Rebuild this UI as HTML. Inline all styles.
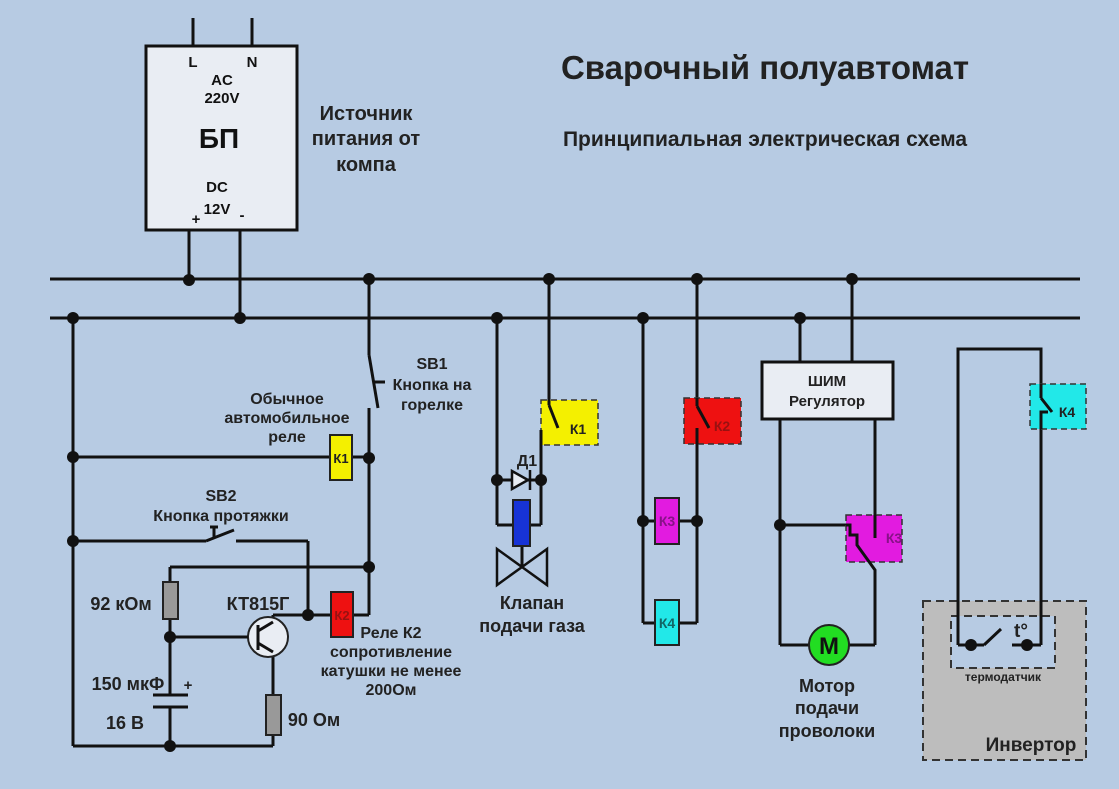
<!DOCTYPE html>
<html><head><meta charset="utf-8"><style>
html,body{margin:0;padding:0;background:#b7cbe3;}
svg{display:block;font-family:"Liberation Sans",sans-serif;font-weight:bold;}
</style></head><body>
<svg width="1119" height="789" viewBox="0 0 1119 789" xmlns="http://www.w3.org/2000/svg">
<rect width="1119" height="789" fill="#b7cbe3"/>
<g stroke="#111" stroke-width="3" fill="none">
<line x1="50" y1="279" x2="1080" y2="279"/>
<line x1="50" y1="318" x2="1080" y2="318"/>
<line x1="193" y1="18" x2="193" y2="46"/><line x1="252" y1="18" x2="252" y2="46"/>
<line x1="189" y1="230" x2="189" y2="279"/><line x1="240" y1="230" x2="240" y2="318"/>
<line x1="73" y1="318" x2="73" y2="746"/>
<line x1="73" y1="746" x2="273" y2="746"/>
<line x1="73" y1="457" x2="330" y2="457"/><line x1="352" y1="457" x2="369" y2="457"/>
<line x1="369" y1="279" x2="369" y2="355"/>
<line x1="369" y1="355" x2="378" y2="408"/>
<line x1="369" y1="408" x2="369" y2="615"/>
<line x1="373" y1="382" x2="385" y2="382"/>
<line x1="73" y1="541" x2="206" y2="541"/>
<line x1="206" y1="541" x2="234" y2="530"/>
<line x1="236" y1="541" x2="308" y2="541"/>
<line x1="308" y1="541" x2="308" y2="615"/>
<line x1="210" y1="527" x2="218" y2="527"/><line x1="214" y1="527" x2="214" y2="537"/>
<line x1="170" y1="567" x2="369" y2="567"/>
<line x1="170" y1="567" x2="170" y2="695"/>
<line x1="170" y1="707" x2="170" y2="746"/>
<line x1="153" y1="695" x2="188" y2="695"/><line x1="153" y1="707" x2="188" y2="707"/>
<line x1="273" y1="615" x2="331" y2="615"/><line x1="353" y1="615" x2="369" y2="615"/>
<line x1="273" y1="615" x2="273" y2="625"/>
<line x1="273" y1="650" x2="273" y2="746"/>
<line x1="497" y1="318" x2="497" y2="525"/><line x1="497" y1="525" x2="513" y2="525"/>
<line x1="549" y1="279" x2="549" y2="405"/>
<line x1="541" y1="430" x2="541" y2="525"/><line x1="530" y1="525" x2="541" y2="525"/>
<line x1="497" y1="480" x2="541" y2="480"/>
<line x1="522" y1="546" x2="522" y2="567"/>
<line x1="643" y1="318" x2="643" y2="623"/><line x1="643" y1="623" x2="697" y2="623"/>
<line x1="697" y1="279" x2="697" y2="406"/>
<line x1="697" y1="428" x2="697" y2="623"/>
<line x1="643" y1="521" x2="697" y2="521"/>
<line x1="800" y1="318" x2="800" y2="362"/><line x1="852" y1="279" x2="852" y2="362"/>
<line x1="780" y1="419" x2="780" y2="645"/><line x1="780" y1="645" x2="875" y2="645"/>
<line x1="875" y1="419" x2="875" y2="538"/>
<line x1="780" y1="525" x2="850" y2="525"/>
<polyline points="875,570 875,645"/>
<polyline points="958,640 958,349 1041,349 1041,398"/>
<polyline points="1041,412 1041,645 1027,645"/>
</g>
<rect x="146" y="46" width="151" height="184" fill="#e9edf3" stroke="#111" stroke-width="3"/>
<g font-size="15" text-anchor="middle" fill="#111">
<text x="193" y="67">L</text><text x="252" y="67">N</text>
<text x="222" y="85">AC</text><text x="222" y="103">220V</text>
<text x="217" y="192">DC</text><text x="217" y="214">12V</text>
<text x="196" y="224">+</text><text x="242" y="220">-</text>
</g>
<text x="219" y="148" font-size="28" text-anchor="middle" fill="#111">БП</text>
<g font-size="20" text-anchor="middle" fill="#222">
<text x="366" y="120">Источник</text><text x="366" y="145">питания от</text><text x="366" y="171">компа</text>
</g>
<text x="765" y="79" font-size="33" text-anchor="middle" fill="#222">Сварочный полуавтомат</text>
<text x="765" y="146" font-size="21" text-anchor="middle" fill="#222">Принципиальная электрическая схема</text>
<rect x="330" y="435" width="22" height="45" fill="#f4f000" stroke="#222" stroke-width="2"/>
<text x="341" y="463" font-size="13" text-anchor="middle" fill="#222">К1</text>
<rect x="331" y="592" width="22" height="45" fill="#ee1111" stroke="#222" stroke-width="2"/>
<text x="342" y="620" font-size="13" text-anchor="middle" fill="#991111">К2</text>
<rect x="163" y="582" width="15" height="37" fill="#999" stroke="#222" stroke-width="2"/>
<rect x="266" y="695" width="15" height="40" fill="#999" stroke="#222" stroke-width="2"/>
<circle cx="268" cy="637" r="20" fill="#e9edf3" stroke="#222" stroke-width="2"/>
<g stroke="#111" stroke-width="3"><line x1="258" y1="625" x2="258" y2="650"/><line x1="258" y1="631" x2="273" y2="622"/><line x1="258" y1="643" x2="273" y2="652"/><line x1="170" y1="637" x2="248" y2="637"/></g>
<rect x="513" y="500" width="17" height="46" fill="#1733d6" stroke="#222" stroke-width="2"/>
<polygon points="497,549 522,567 497,585" fill="none" stroke="#111" stroke-width="2.5"/>
<polygon points="547,549 522,567 547,585" fill="none" stroke="#111" stroke-width="2.5"/>
<polygon points="512,471 512,489 528,480" fill="#e8ecf2" stroke="#111" stroke-width="2.5"/>
<line x1="530" y1="470" x2="530" y2="490" stroke="#111" stroke-width="2.5"/>
<rect x="541" y="400" width="57" height="45" fill="#f4f000" stroke="#333" stroke-width="1.5" stroke-dasharray="6,4"/>
<g stroke="#111" stroke-width="3"><line x1="549" y1="400" x2="549" y2="405"/><line x1="549" y1="405" x2="558" y2="428"/><line x1="541" y1="430" x2="541" y2="445"/></g>
<text x="578" y="434" font-size="14" text-anchor="middle" fill="#222">К1</text>
<rect x="684" y="398" width="57" height="46" fill="#ee1111" stroke="#333" stroke-width="1.5" stroke-dasharray="6,4"/>
<g stroke="#111" stroke-width="3"><line x1="697" y1="398" x2="697" y2="406"/><line x1="697" y1="406" x2="709" y2="428"/><line x1="697" y1="428" x2="697" y2="444"/></g>
<text x="722" y="431" font-size="14" text-anchor="middle" fill="#991111">К2</text>
<rect x="655" y="498" width="24" height="46" fill="#e21be0" stroke="#222" stroke-width="2"/>
<text x="667" y="526" font-size="14" text-anchor="middle" fill="#881188">К3</text>
<rect x="655" y="600" width="24" height="45" fill="#22e8e8" stroke="#222" stroke-width="2"/>
<text x="667" y="628" font-size="14" text-anchor="middle" fill="#116666">К4</text>
<rect x="762" y="362" width="131" height="57" fill="#e9edf3" stroke="#111" stroke-width="3"/>
<text x="827" y="386" font-size="15" text-anchor="middle" fill="#222">ШИМ</text>
<text x="827" y="406" font-size="15" text-anchor="middle" fill="#222">Регулятор</text>
<rect x="846" y="515" width="56" height="47" fill="#e21be0" stroke="#333" stroke-width="1.5" stroke-dasharray="6,4"/>
<g stroke="#111" stroke-width="3" fill="none"><polyline points="846,525 850,525 850,535 857,535 857,545 875,570 875,580"/><line x1="875" y1="515" x2="875" y2="538"/></g>
<text x="894" y="543" font-size="14" text-anchor="middle" fill="#881188">К3</text>
<circle cx="829" cy="645" r="20" fill="#22dd22" stroke="#222" stroke-width="2"/>
<text x="829" y="654" font-size="24" text-anchor="middle" fill="#111">M</text>
<rect x="1030" y="384" width="56" height="45" fill="#22e8e8" stroke="#333" stroke-width="1.5" stroke-dasharray="6,4"/>
<g stroke="#111" stroke-width="3" fill="none"><line x1="1041" y1="384" x2="1041" y2="398"/><line x1="1041" y1="398" x2="1052" y2="412"/><polyline points="1048,412 1041,412 1041,429"/></g>
<text x="1067" y="417" font-size="14" text-anchor="middle" fill="#222">К4</text>
<rect x="923" y="601" width="163" height="159" fill="#bdbdbd" stroke="#333" stroke-width="2" stroke-dasharray="8,5"/>
<rect x="951" y="616" width="104" height="52" fill="#b7cbe3" stroke="#333" stroke-width="2" stroke-dasharray="8,5"/>
<g stroke="#111" stroke-width="3" fill="none"><line x1="958" y1="600" x2="958" y2="645"/><line x1="958" y1="645" x2="984" y2="645"/><line x1="984" y1="645" x2="1001" y2="629"/><line x1="1012" y1="645" x2="1041" y2="645"/><line x1="1041" y1="600" x2="1041" y2="645"/></g>
<text x="1021" y="637" font-size="19" text-anchor="middle" fill="#222">t°</text>
<text x="1003" y="681" font-size="12" text-anchor="middle" fill="#222">термодатчик</text>
<text x="1031" y="751" font-size="19" text-anchor="middle" fill="#222">Инвертор</text>
<g fill="#111">
<circle cx="189" cy="280" r="6"/><circle cx="240" cy="318" r="6"/><circle cx="369" cy="279" r="6"/>
<circle cx="73" cy="318" r="6"/><circle cx="73" cy="457" r="6"/><circle cx="73" cy="541" r="6"/>
<circle cx="369" cy="458" r="6"/><circle cx="369" cy="567" r="6"/><circle cx="308" cy="615" r="6"/>
<circle cx="170" cy="637" r="6"/><circle cx="170" cy="746" r="6"/>
<circle cx="497" cy="318" r="6"/><circle cx="549" cy="279" r="6"/><circle cx="497" cy="480" r="6"/><circle cx="541" cy="480" r="6"/>
<circle cx="643" cy="318" r="6"/><circle cx="697" cy="279" r="6"/><circle cx="643" cy="521" r="6"/><circle cx="697" cy="521" r="6"/>
<circle cx="800" cy="318" r="6"/><circle cx="852" cy="279" r="6"/><circle cx="780" cy="525" r="6"/>
<circle cx="971" cy="645" r="6"/><circle cx="1027" cy="645" r="6"/>
</g>
<g font-size="16" text-anchor="middle" fill="#222">
<text x="432" y="369">SB1</text><text x="432" y="390">Кнопка на</text><text x="432" y="410">горелке</text>
<text x="287" y="404">Обычное</text><text x="287" y="423">автомобильное</text><text x="287" y="442">реле</text>
<text x="221" y="501">SB2</text><text x="221" y="521">Кнопка протяжки</text>
<text x="391" y="638">Реле К2</text><text x="391" y="657">сопротивление</text><text x="391" y="676">катушки не менее</text><text x="391" y="695">200Ом</text>
<text x="527" y="466">Д1</text>
</g>
<g font-size="18" text-anchor="middle" fill="#222">
<text x="121" y="610">92 кОм</text><text x="258" y="610">КТ815Г</text>
<text x="128" y="690">150 мкФ</text><text x="188" y="690" font-size="15">+</text>
<text x="125" y="729">16 В</text><text x="314" y="726">90 Ом</text>
<text x="532" y="609">Клапан</text><text x="532" y="632">подачи газа</text>
<text x="827" y="692">Мотор</text><text x="827" y="714">подачи</text><text x="827" y="737">проволоки</text>
</g>
</svg>
</body></html>
